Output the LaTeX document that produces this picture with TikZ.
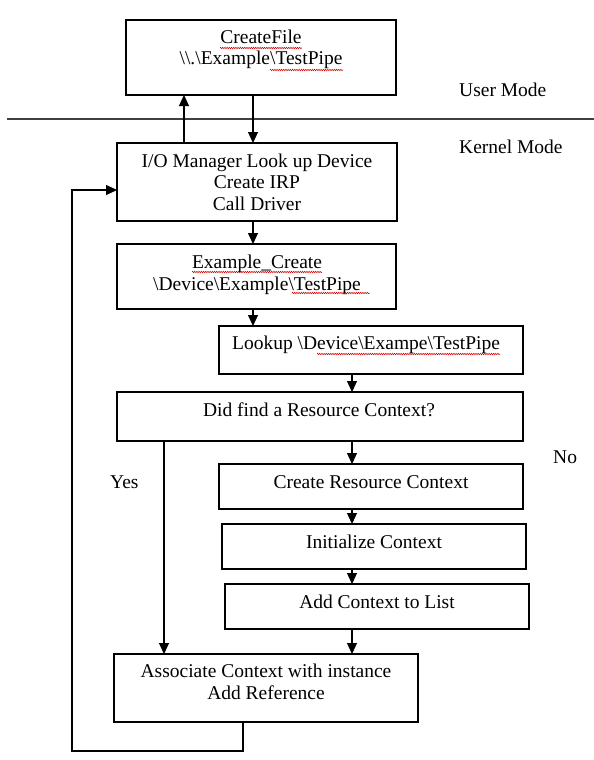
\documentclass[tikz,border=0pt]{standalone}
\usepackage{fontspec}
\setmainfont{Liberation Serif}
\usetikzlibrary{arrows.meta,decorations.pathmorphing}
\tikzset{
  box/.style={draw=black, line width=1.1pt, inner sep=0pt, outer sep=0pt, anchor=north west},
  txt/.style={font=\fontsize{19.5}{21.7}\selectfont, inner sep=0pt, align=center, anchor=base},
  lbl/.style={font=\fontsize{19.5}{21.7}\selectfont, inner sep=0pt, anchor=base west},
  arr/.style={draw=black, line width=1.1pt, -{Triangle[length=11pt,width=10pt]}},
  sep/.style={draw=black!75, line width=1.3pt},
  squig/.style={draw=red!85!black, line width=0.5pt, decorate, decoration={zigzag, segment length=2.2pt, amplitude=0.8pt}}
}
\begin{document}
\begin{tikzpicture}[x=1pt, y=-1pt]
\useasboundingbox (0,0) rectangle (594,760);
% boxes
\node[box, minimum width=270pt, minimum height=75pt] (b1) at (126,20) {};
\node[box, minimum width=280pt, minimum height=78pt] (b2) at (117,143) {};
\node[box, minimum width=279pt, minimum height=65pt] (b3) at (117,244) {};
\node[box, minimum width=304pt, minimum height=48pt] (b4) at (219,326) {};
\node[box, minimum width=406pt, minimum height=49pt] (b5) at (117,392) {};
\node[box, minimum width=304pt, minimum height=45pt] (b6) at (219,464) {};
\node[box, minimum width=304pt, minimum height=45pt] (b7) at (222,524) {};
\node[box, minimum width=304pt, minimum height=45pt] (b8) at (225,584) {};
\node[box, minimum width=304pt, minimum height=68pt] (b9) at (114,654) {};
% texts
\node[txt] (t1a) at (261,44) {CreateFile};
\node[txt] (t1b) at (261,65) {\textbackslash\textbackslash.\textbackslash Example\textbackslash TestPipe};
\node[txt] (t2a) at (257,167) {I/O Manager Look up Device};
\node[txt] (t2b) at (257,188) {Create IRP};
\node[txt] (t2c) at (257,210) {Call Driver};
\node[txt] (t3a) at (257,268) {Example\_Create};
\node[txt] (t3b) at (257,290) {\textbackslash Device\textbackslash Example\textbackslash TestPipe};
\node[txt] (t4) at (366,349) {Lookup \textbackslash Device\textbackslash Exampe\textbackslash TestPipe};
\node[txt] (t5) at (319,416) {Did find a Resource Context?};
\node[txt] (t6) at (371,488) {Create Resource Context};
\node[txt] (t7) at (374,548) {Initialize Context};
\node[txt] (t8) at (377,608) {Add Context to List};
\node[txt] (t9a) at (266,677) {Associate Context with instance};
\node[txt] (t9b) at (266,699) {Add Reference};
\node[lbl] (um) at (459,96) {User Mode};
\node[lbl] (km) at (459,153) {Kernel Mode};
\node[lbl] (yes) at (110,488) {Yes};
\node[lbl] (no) at (553,463) {No};
% separator
\coordinate (sepL) at (7,119);
\coordinate (sepR) at (594,119);
\draw[sep] (sepL) -- (sepR);
% columns
\coordinate (cA) at (184,0);
\coordinate (cB) at (253,0);
\coordinate (cC) at (352,0);
\coordinate (cY) at (164,0);
\coordinate (cL) at (72,0);
\coordinate (cR) at (243,0);
\coordinate (ya) at (0,190);
\coordinate (yb) at (0,751);
% connectors
\draw[arr] (cA |- b2.north) -- (cA |- b1.south);
\draw[arr] (cB |- b1.south) -- (cB |- b2.north);
\draw[arr] (cB |- b2.south) -- (cB |- b3.north);
\draw[arr] (cB |- b3.south) -- (cB |- b4.north);
\draw[arr] (cC |- b4.south) -- (cC |- b5.north);
\draw[arr] (cC |- b5.south) -- (cC |- b6.north);
\draw[arr] (cC |- b6.south) -- (cC |- b7.north);
\draw[arr] (cC |- b7.south) -- (cC |- b8.north);
\draw[arr] (cC |- b8.south) -- (cC |- b9.north);
\draw[arr] (cY |- b5.south) -- (cY |- b9.north);
\draw[arr] (cR |- b9.south) -- (cR |- yb) -- (cL |- yb) -- (cL |- ya) -- (b2.west |- ya);
% spell-check squiggles
\draw[squig] (220,48) -- (302,48);
\draw[squig] (270,70) -- (343,70);
\draw[squig] (192,272) -- (322,272);
\draw[squig] (292,293) -- (370,293);
\draw[squig] (317,354) -- (500,354);
\end{tikzpicture}
\end{document}
